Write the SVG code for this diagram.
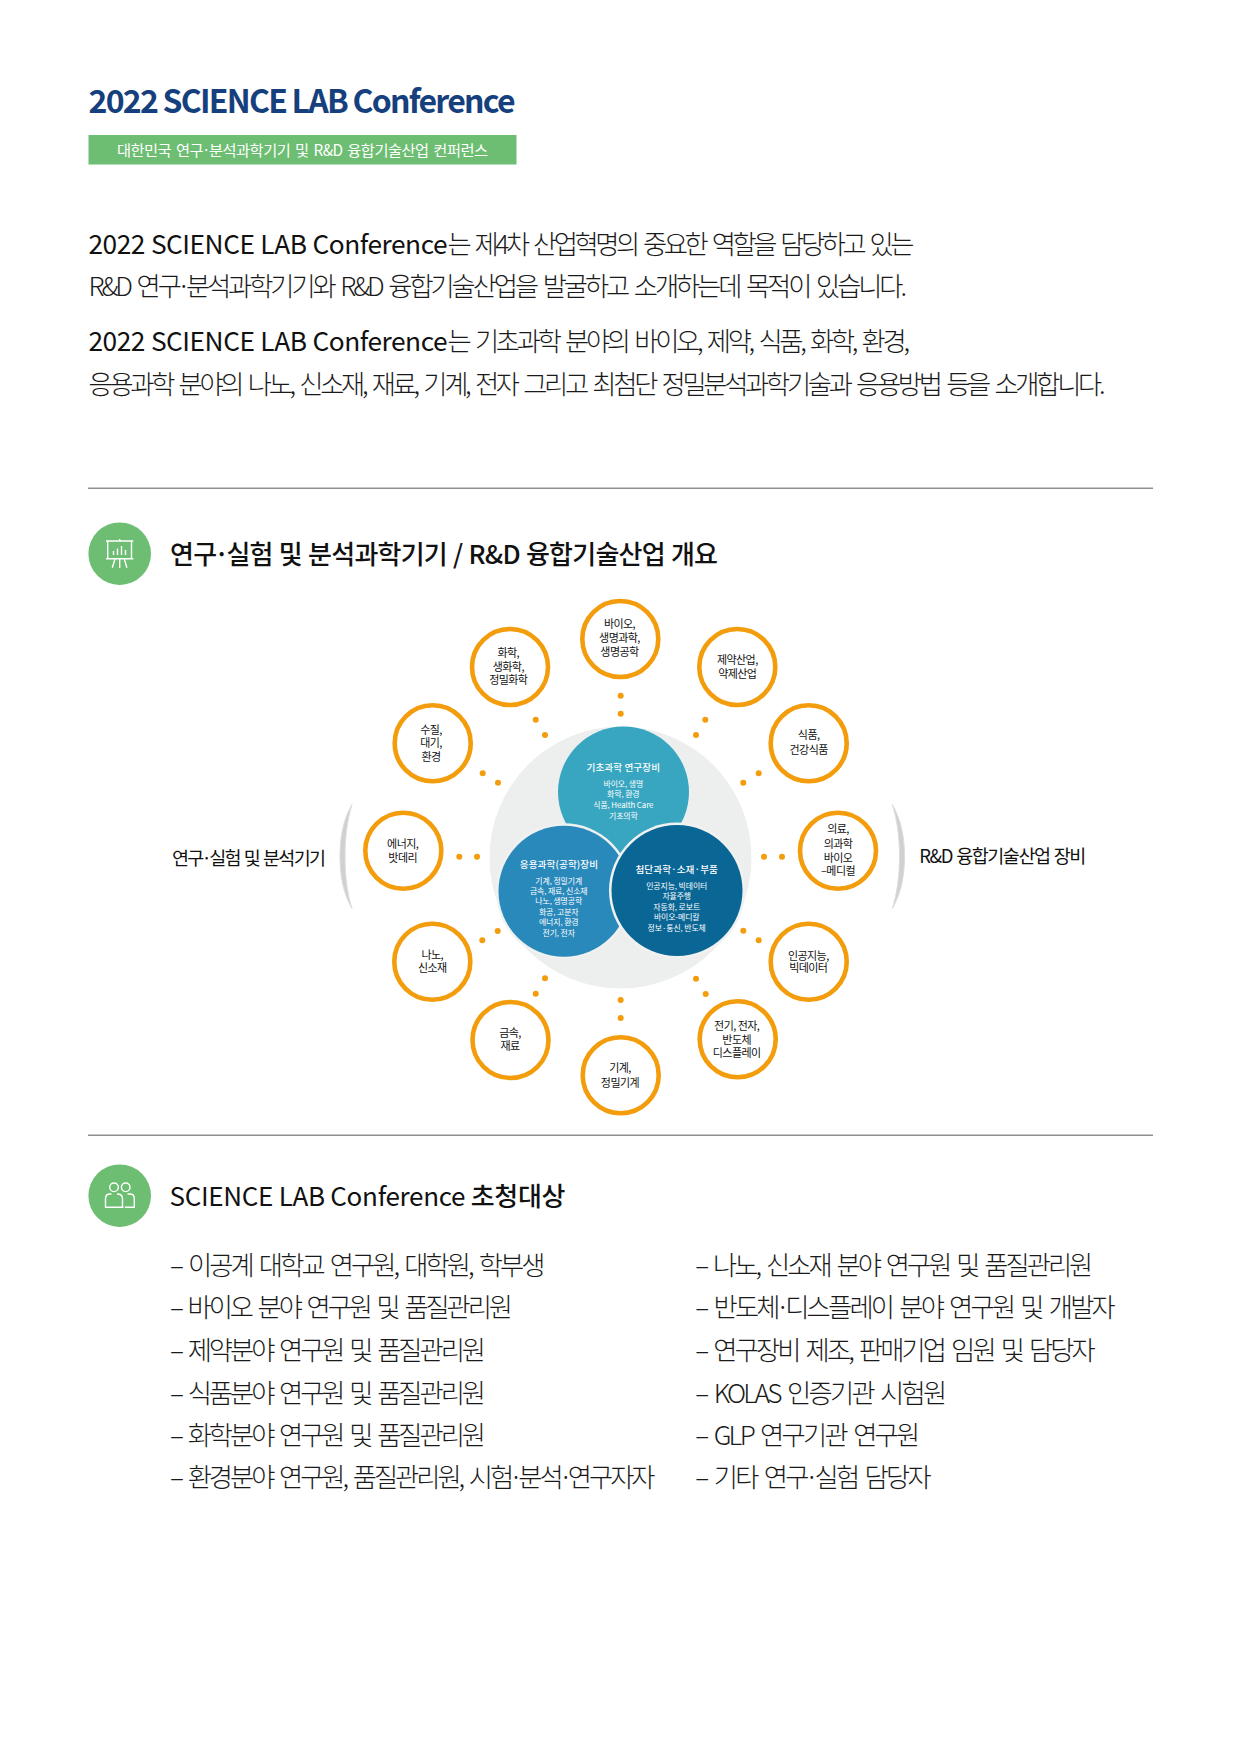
<svg xmlns="http://www.w3.org/2000/svg" width="1240" height="1754" viewBox="0 0 1240 1754">
<style>
text{font-family:"Noto Sans CJK KR","Noto Sans",sans-serif;fill:#111}
.body{font-size:26.3px;font-weight:300;fill:#1a1a1a;word-spacing:4px}
.lat{font-size:26.3px;font-weight:400;fill:#111;word-spacing:.5px}
.sec{font-size:26px;font-weight:500;word-spacing:1px}
.li{font-size:26.3px;font-weight:300;fill:#1a1a1a;word-spacing:4px}
.br{font-size:18.500px;font-weight:400;word-spacing:1.500px}
.n{font-size:11px;letter-spacing:-.55px;text-anchor:middle;font-weight:400}
.ch{font-size:9.600px;fill:#fff;text-anchor:middle;font-weight:500;letter-spacing:.1px}
.ci{font-size:7.900px;fill:#fff;text-anchor:middle;font-weight:400;letter-spacing:-.1px}
.ring{fill:#fff;stroke:#f39c0c;stroke-width:4.600}
.dot{fill:#f39c0c}
.rule{stroke:#8f8f8f;stroke-width:1.600}
.ico{fill:none;stroke:#fff;stroke-width:1.400}
.bk{fill:#cfd0d0;stroke:#dcdddd;stroke-width:1;stroke-linejoin:round}
</style>

<g id="header">
<text x="88.500" y="113" font-size="32" font-weight="700" style="fill:#163f7d" textLength="427" lengthAdjust="spacing">2022 SCIENCE LAB Conference</text>
<rect x="88.500" y="135" width="428" height="29.500" fill="#6dbd72"/>
<text x="117" y="155.500" font-size="15.300" style="fill:#fff;word-spacing:2px" textLength="371">대한민국 연구<tspan dx="-1">·</tspan><tspan dx="-1">분석과학기기 및 R&amp;D 융합기술산업 컨퍼런스</tspan></text>
</g>

<g id="intro">
<text class="lat" x="88.500" y="253.500" textLength="359">2022 SCIENCE LAB Conference</text>
<text class="body" x="447.500" y="253.500" textLength="467">는 제4차 산업혁명의 중요한 역할을 담당하고 있는</text>
<text class="body" x="88.500" y="296" textLength="818.500">R&amp;D 연구<tspan dx="-2">·</tspan><tspan dx="-2">분석과학기기와 R&amp;D 융합기술산업을 발굴하고 소개하는데 목적이 있습니다.</tspan></text>
<text class="lat" x="88.500" y="351" textLength="359">2022 SCIENCE LAB Conference</text>
<text class="body" x="447.500" y="351" textLength="462.500">는 기초과학 분야의 바이오, 제약, 식품, 화학, 환경,</text>
<text class="body" x="88.500" y="393.800" textLength="1017">응용과학 분야의 나노, 신소재, 재료, 기계, 전자 그리고 최첨단 정밀분석과학기술과 응용방법 등을 소개합니다.</text>
</g>

<line class="rule" x1="88" y1="488.300" x2="1153" y2="488.300"/>
<line class="rule" x1="88" y1="1135.300" x2="1153" y2="1135.300"/>

<g id="section-1">
<circle cx="119.700" cy="553.700" r="31.300" fill="#6dbd72"/>
<path class="ico" d="M106 541H133.300M107.700 541V558.700M131.500 541V558.700M106 558.700H133.300M119.700 539V541M115 559L112.300 567.700M119.700 559V568M124.300 559L126.900 567.700M113.500 555V551M117.500 555V548.500M121.500 555V546M125.500 555V550"/>
<text class="sec" x="170" y="564" textLength="548">연구<tspan dx="-2">·</tspan><tspan dx="-2">실험 및 분석과학기기 / R&amp;D 융합기술산업 개요</tspan></text>
</g>

<g id="diagram-base">
<circle cx="620.500" cy="857.500" r="131" fill="#edefef"/>
<path class="bk" d="M352 804.500C343 820 340 838 340 856.500C340 875 343 893 352 908.500C347 893 345 875 345 856.500C345 838 347 820 352 804.500Z"/>
<path class="bk" d="M892.300 804.500C901.300 820 904.500 838 904.500 856.500C904.500 875 901.300 893 892.300 908.500C897.300 893 899.500 875 899.500 856.500C899.500 838 897.300 820 892.300 804.500Z"/>
<text class="br" x="172" y="864.500" textLength="154">연구<tspan dx="-1">·</tspan><tspan dx="-1">실험 및 분석기기</tspan></text>
<text class="br" x="919.300" y="863.300" textLength="167">R&amp;D 융합기술산업 장비</text>
</g>

<g id="core-basic">
<circle cx="623.500" cy="792" r="65.500" fill="#38a6c0"/>
<text class="ch" x="623.300" y="771">기초과학 연구장비</text>
<text class="ci" x="623.300" y="786.700">바이오, 생명</text>
<text class="ci" x="623.300" y="797.300">화학, 환경</text>
<text class="ci" x="623.300" y="807.700">식품, Health Care</text>
<text class="ci" x="623.300" y="819">기초의학</text>
</g>
<g id="core-applied">
<circle cx="564" cy="891.300" r="68" fill="#f0f1f1"/>
<circle cx="564" cy="891.300" r="65.500" fill="#2a89bb"/>
<text class="ch" x="559" y="867.700">응용과학(공학)장비</text>
<text class="ci" x="558.700" y="884">기계, 정밀기계</text>
<text class="ci" x="558.700" y="894">금속, 재료, 신소재</text>
<text class="ci" x="558.700" y="904.300">나노, 생명공학</text>
<text class="ci" x="558.700" y="915">화공, 고분자</text>
<text class="ci" x="558.700" y="925.300">에너지, 환경</text>
<text class="ci" x="558.700" y="936">전기, 전자</text>
</g>
<g id="core-advanced">
<circle cx="677" cy="890.500" r="68" fill="#f0f1f1"/>
<circle cx="677" cy="890.500" r="65.500" fill="#0a6695"/>
<text class="ch" x="676.700" y="873.300">첨단과학·소재·부품</text>
<text class="ci" x="676.700" y="889">인공지능, 빅데이터</text>
<text class="ci" x="676.700" y="899.300">자율주행</text>
<text class="ci" x="676.700" y="909.700">자동화, 로보트</text>
<text class="ci" x="676.700" y="920.300">바이오-메디칼</text>
<text class="ci" x="676.700" y="930.700">정보·통신, 반도체</text>
</g>

<g id="connectors">
<circle class="dot" cx="620.700" cy="695.700" r="3"/><circle class="dot" cx="620.700" cy="713.700" r="3"/>
<circle class="dot" cx="535.700" cy="719.700" r="3"/><circle class="dot" cx="545" cy="735" r="3"/>
<circle class="dot" cx="482.700" cy="773.300" r="3"/><circle class="dot" cx="498" cy="782.700" r="3"/>
<circle class="dot" cx="459.300" cy="856.700" r="3"/><circle class="dot" cx="477" cy="856.700" r="3"/>
<circle class="dot" cx="705.300" cy="719.700" r="3"/><circle class="dot" cx="696" cy="735" r="3"/>
<circle class="dot" cx="758.700" cy="773.300" r="3"/><circle class="dot" cx="743.300" cy="782.700" r="3"/>
<circle class="dot" cx="764" cy="856.700" r="3"/><circle class="dot" cx="782" cy="856.700" r="3"/>
<circle class="dot" cx="482.300" cy="940.300" r="3"/><circle class="dot" cx="497.700" cy="931" r="3"/>
<circle class="dot" cx="743.300" cy="930.700" r="3"/><circle class="dot" cx="758.700" cy="940.300" r="3"/>
<circle class="dot" cx="696" cy="978.700" r="3"/><circle class="dot" cx="705.700" cy="994" r="3"/>
<circle class="dot" cx="620.700" cy="1000" r="3"/><circle class="dot" cx="620.700" cy="1018" r="3"/>
<circle class="dot" cx="545" cy="978.300" r="3"/><circle class="dot" cx="535.700" cy="993.700" r="3"/>
</g>

<g id="node-bio"><circle class="ring" cx="620.300" cy="639" r="38"/><text class="n" x="619.500" y="628.300">바이오,</text><text class="n" x="619.500" y="642.300">생명과학,</text><text class="n" x="619.500" y="656">생명공학</text></g>
<g id="node-chem"><circle class="ring" cx="510" cy="667" r="38"/><text class="n" x="508.300" y="656.700">화학,</text><text class="n" x="508.300" y="671">생화학,</text><text class="n" x="508.300" y="684.300">정밀화학</text></g>
<g id="node-water"><circle class="ring" cx="432.700" cy="743.300" r="38"/><text class="n" x="431" y="734">수질,</text><text class="n" x="431" y="747.300">대기,</text><text class="n" x="431" y="761">환경</text></g>
<g id="node-energy"><circle class="ring" cx="403.300" cy="850.700" r="38"/><text class="n" x="402.700" y="848.300">에너지,</text><text class="n" x="402.700" y="861.700">밧데리</text></g>
<g id="node-nano"><circle class="ring" cx="432.300" cy="961.700" r="38"/><text class="n" x="432.300" y="959.300">나노,</text><text class="n" x="432.300" y="972.300">신소재</text></g>
<g id="node-metal"><circle class="ring" cx="510.500" cy="1040" r="38"/><text class="n" x="510" y="1037">금속,</text><text class="n" x="510" y="1049.700">재료</text></g>
<g id="node-machine"><circle class="ring" cx="620.700" cy="1075.300" r="38"/><text class="n" x="620" y="1072.300">기계,</text><text class="n" x="620" y="1086.700">정밀기계</text></g>
<g id="node-elec"><circle class="ring" cx="737.700" cy="1039.300" r="38"/><text class="n" x="736.700" y="1030">전기, 전자,</text><text class="n" x="736.700" y="1044">반도체</text><text class="n" x="736.700" y="1057.300">디스플레이</text></g>
<g id="node-ai"><circle class="ring" cx="808.700" cy="961.700" r="38"/><text class="n" x="808.300" y="960">인공지능,</text><text class="n" x="808.300" y="971.700">빅데이터</text></g>
<g id="node-med"><circle class="ring" cx="838" cy="850.700" r="38"/><text class="n" x="838" y="832.700">의료,</text><text class="n" x="838" y="848.300">의과학</text><text class="n" x="838" y="861.700">바이오</text><text class="n" x="838" y="875">–메디컬</text></g>
<g id="node-food"><circle class="ring" cx="808.700" cy="743.300" r="38"/><text class="n" x="808.700" y="739.300">식품,</text><text class="n" x="808.700" y="754">건강식품</text></g>
<g id="node-pharma"><circle class="ring" cx="737.300" cy="667" r="38"/><text class="n" x="737.300" y="664">제약산업,</text><text class="n" x="737.300" y="677.700">약제산업</text></g>

<g id="section-2">
<circle cx="119.700" cy="1195.700" r="31.300" fill="#6dbd72"/>
<path class="ico" d="M123.500 1207.300H105.500V1198.500Q105.500 1194 110 1194H111.500M117 1194Q122.500 1194 122.500 1198.500V1207.300M127.500 1194H130Q134.300 1194 134.300 1198.500V1207.300H125"/>
<circle class="ico" cx="114" cy="1187.300" r="4.300"/><circle class="ico" cx="125.700" cy="1187.300" r="4.300"/>
<text class="sec" x="169.500" y="1205.500" textLength="396" style="word-spacing:0"><tspan font-weight="400">SCIENCE LAB Conference</tspan> 초청대상</text>
</g>

<g id="list-left">
<text class="li" x="170" y="1275" textLength="375.500">– 이공계 대학교 연구원, 대학원, 학부생</text>
<text class="li" x="170" y="1317.300" textLength="343">– 바이오 분야 연구원 및 품질관리원</text>
<text class="li" x="170" y="1360" textLength="316">– 제약분야 연구원 및 품질관리원</text>
<text class="li" x="170" y="1402.700" textLength="316">– 식품분야 연구원 및 품질관리원</text>
<text class="li" x="170" y="1445" textLength="316">– 화학분야 연구원 및 품질관리원</text>
<text class="li" x="170" y="1487.300" textLength="485.500">– 환경분야 연구원, 품질관리원, 시험<tspan dx="-2">·</tspan><tspan dx="-2">분석</tspan><tspan dx="-2">·</tspan><tspan dx="-2">연구자자</tspan></text>
</g>
<g id="list-right">
<text class="li" x="695.300" y="1275" textLength="398">– 나노, 신소재 분야 연구원 및 품질관리원</text>
<text class="li" x="695.300" y="1317.300" textLength="420.500">– 반도체<tspan dx="-2">·</tspan><tspan dx="-2">디스플레이 분야 연구원 및 개발자</tspan></text>
<text class="li" x="695.300" y="1360" textLength="400.500">– 연구장비 제조, 판매기업 임원 및 담당자</text>
<text class="li" x="695.300" y="1402.700" textLength="252">– KOLAS 인증기관 시험원</text>
<text class="li" x="695.300" y="1445" textLength="225">– GLP 연구기관 연구원</text>
<text class="li" x="695.300" y="1487.300" textLength="236.500">– 기타 연구<tspan dx="-2">·</tspan><tspan dx="-2">실험 담당자</tspan></text>
</g>
</svg>
